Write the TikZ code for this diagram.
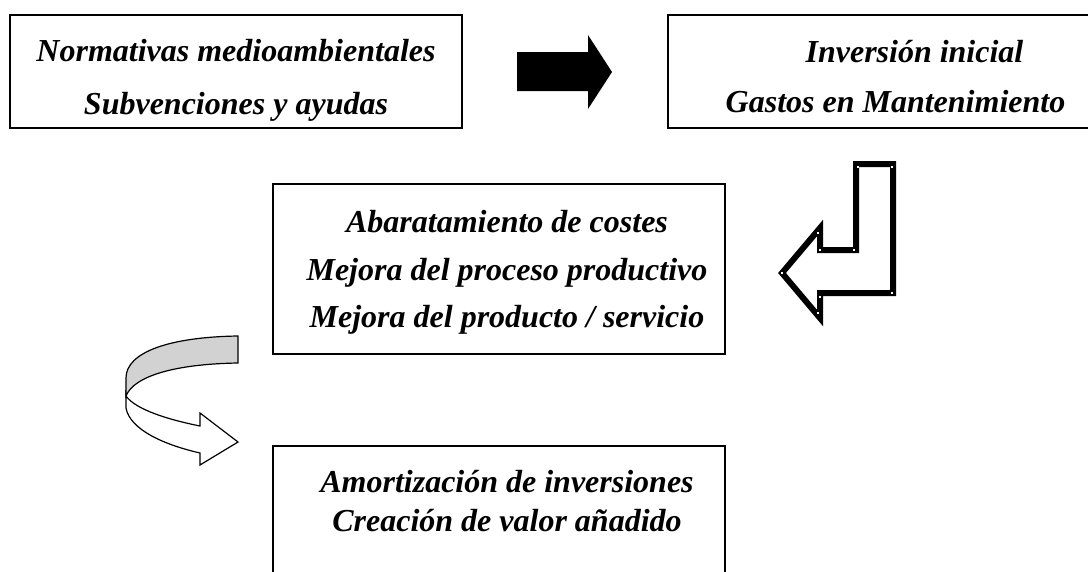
\documentclass[tikz,border=0pt]{standalone}
\usepackage{fontspec}
\setmainfont{Liberation Serif}
\usetikzlibrary{positioning,calc}

\begin{document}
\begin{tikzpicture}[x=1pt, y=-1pt, box/.style={rectangle, draw, line width=1.5pt, minimum width=452pt, minimum height=170pt}, txt/.style={align=center, inner sep=0pt, font=\bfseries\itshape\fontsize{32}{#1}\selectfont}]
  \useasboundingbox (0,0) rectangle (1088,571);
  {
  % boxes
  \node[box, minimum height=113pt] (norm) at (236,71.5) {};
  \node[box, minimum height=113pt, minimum width=422pt, right of=norm, node distance=643pt] (inv) {};
  \node[box] (abar) at (499,269) {};
  \node[box, below of=abar, node distance=262pt] (amort) {};

  % texts
  \node[txt=53, below=25pt of norm.north] (normtxt) {Normativas medioambientales\\Subvenciones y ayudas};
  \node[txt=50, below=25.6pt of inv.north, xshift=16.5pt] (invtxt) {\hspace*{38pt}Inversión inicial\\Gastos en Mantenimiento};
  \node[txt=47.5, below=27pt of abar.north, xshift=8pt] (abartxt) {Abaratamiento de costes\\Mejora del proceso productivo\\Mejora del producto / servicio};
  \node[txt=39, below=24.6pt of amort.north, xshift=8pt] (amorttxt) {Amortización de inversiones\\Creación de valor añadido};

  % black arrow between the top boxes
  \fill (517,52) -- (588,52) -- (588,35) -- (612,72) -- (588,109) -- (588,91) -- (517,91) -- cycle;

  % bent arrow on the right
  \draw[line width=6pt, fill=white, miter limit=10] (856,164) -- (893,164) -- (893,293) -- (820,293) -- (820,318) -- (782,273) -- (820,228) -- (820,250) -- (856,250) -- cycle;
  \foreach \p in {(858,167), (892,167), (892,293), (820,250), (854,250), (818,233), (782,273), (820,297), (818,313)}
    \fill[white] \p ++(-1.2,-1.2) rectangle ++(2.4,2.4);

  % curved arrow on the left
  \draw[line width=1.2pt, fill=white, line join=miter] (126,390) -- (126,408) .. controls (130,430) and (165,445) .. (200,453) -- (200,465) -- (238,442) -- (200,413) -- (200,426) .. controls (170,420) and (136,410) .. (126,396) -- cycle;
  \draw[line width=1.2pt, fill=gray!35] (238,336) .. controls (170,337) and (126,352) .. (126,378) -- (126,396) .. controls (134,376) and (175,364) .. (238,363) -- cycle;
  }
\end{tikzpicture}
\end{document}
